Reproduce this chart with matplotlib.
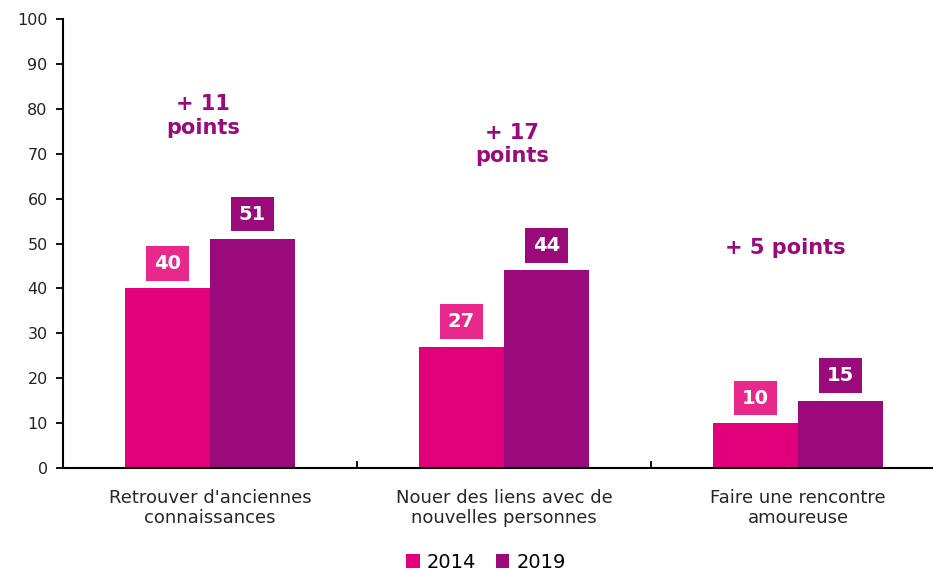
import matplotlib
matplotlib.use("Agg")
import matplotlib.pyplot as plt
import numpy as np

categories = ["Retrouver d'anciennes\nconnaissances",
              "Nouer des liens avec de\nnouvelles personnes",
              "Faire une rencontre\namoureuse"]
series_names = ["2014", "2019"]
values_2014 = [40, 27, 10]
values_2019 = [51, 44, 15]
gains = ["+ 11\npoints", "+ 17\npoints", "+ 5 points"]
gain_levels = [78.4, 72, 49]
yticks = list(range(0, 101, 10))

c14 = "#E2007A"
c14_box = "#E8288A"
c19 = "#9B0A7A"
c_annot = "#9B0A7A"

plt.rcParams['font.family'] = ['DejaVu Sans']

fig = plt.figure(figsize=(9.33, 5.72), dpi=100)
ax = fig.add_axes([63/933, 1-468/572, 882/933, (468-19)/572])

x = np.arange(len(categories))
w = 0.289
b1 = ax.bar(x - w/2, values_2014, w, color=c14, label=series_names[0], zorder=2)
b2 = ax.bar(x + w/2, values_2019, w, color=c19, label=series_names[1], zorder=2)

for bars, vals, bc in ((b1, values_2014, c14_box), (b2, values_2019, c19)):
    for rect, v in zip(bars, vals):
        ax.annotate(f"{v}", (rect.get_x() + rect.get_width()/2, v),
                    xytext=(0, 18), textcoords="offset points",
                    ha="center", va="center", color="white", fontsize=14,
                    fontweight="bold",
                    bbox=dict(boxstyle="square,pad=0.4", fc=bc, ec="none"))

gain_dx = [-0.024, 0.027, -0.044]
for i, (g, lv) in enumerate(zip(gains, gain_levels)):
    ax.text(x[i] + gain_dx[i], lv, g, ha="center", va="center", color=c_annot,
            fontsize=15, fontweight="bold", linespacing=1.2)

ax.set_xlim(-0.5, 2.5)
ax.set_ylim(0, 100)
ax.set_yticks(yticks)
ax.tick_params(axis="y", labelsize=11.5, length=5, width=1.3, colors="black",
               labelcolor="#222222", pad=6)
ax.set_xticks(x)
ax.set_xticklabels(categories, fontsize=13, color="#262626", linespacing=1.15)
ax.tick_params(axis="x", length=0, pad=15)
ax.set_xticks([0.5, 1.5], minor=True)
ax.tick_params(axis="x", which="minor", direction="in", length=5, width=1.3)

for s in ["top", "right"]:
    ax.spines[s].set_visible(False)
for s in ["left", "bottom"]:
    ax.spines[s].set_linewidth(1.5)

fig.legend(handles=[b1, b2], labels=series_names, loc="center",
           bbox_to_anchor=(486/933, 1-562/572), ncol=2, frameon=False,
           fontsize=14, handlelength=0.7, handleheight=0.7,
           handletextpad=0.35, columnspacing=1.0)

fig.savefig("out.png", dpi=100)
